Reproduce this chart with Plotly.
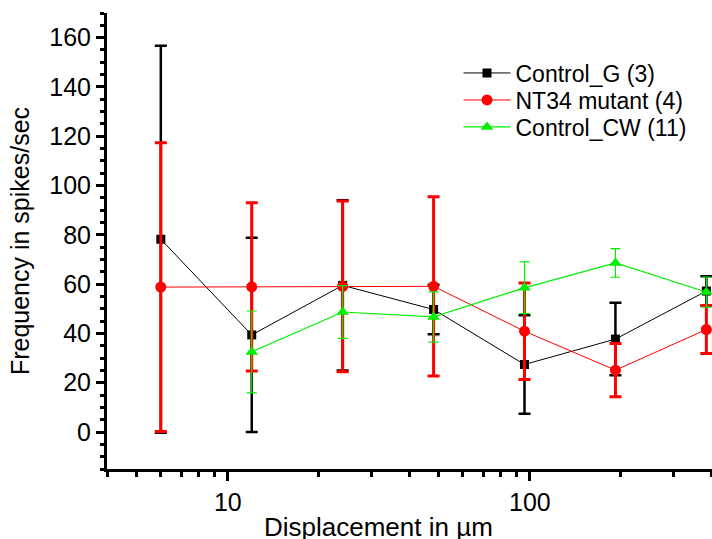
import plotly.graph_objects as go

displacement = [6, 12, 24, 48, 96, 192, 384]
displacement_cw = [12, 24, 48, 96, 192, 384]

control_g = [78.2, 39.4, 59.5, 49.7, 27.4, 37.7, 57.2]
control_g_err = [78.5, 39.4, 34.5, 10.0, 20.0, 14.7, 6.0]

nt34 = [58.8, 58.9, 59.1, 59.1, 40.9, 25.1, 41.6]
nt34_err = [58.6, 34.1, 34.6, 36.4, 19.6, 10.8, 9.7]

control_cw = [32.5, 48.7, 46.7, 58.5, 68.6, 56.8]
control_cw_err = [16.6, 10.7, 10.2, 10.5, 5.8, 6.1]

names = ["Control_G (3)", "NT34 mutant (4)", "Control_CW (11)"]
y_ticks = [0, 20, 40, 60, 80, 100, 120, 140, 160]

FONT = "Liberation Sans, Arial, sans-serif"

fig = go.Figure()
fig.add_trace(go.Scatter(
    x=displacement, y=control_g, name=names[0], mode="lines+markers", legend="legend",
    line=dict(color="black", width=1),
    marker=dict(symbol="square", size=9, color="black"),
    error_y=dict(type="data", array=control_g_err, color="black", thickness=2.5, width=6),
))
fig.add_trace(go.Scatter(
    x=displacement, y=nt34, name=names[1], mode="lines+markers", legend="legend2",
    line=dict(color="#ff0000", width=1),
    marker=dict(symbol="circle", size=11, color="#ff0000"),
    error_y=dict(type="data", array=nt34_err, color="#ff0000", thickness=3, width=6),
))
fig.add_trace(go.Scatter(
    x=displacement_cw, y=control_cw, name=names[2], mode="lines+markers", legend="legend3",
    line=dict(color="#00ee00", width=1.2),
    marker=dict(symbol="triangle-up", size=11, color="#00ee00"),
    error_y=dict(type="data", array=control_cw_err, color="#00ee00", thickness=1.2, width=5),
))

PLOT_TOP, PLOT_H = 13, 456


def legend_at(row_center_px):
    return dict(
        x=0.581, y=1 - (row_center_px - PLOT_TOP) / PLOT_H, xanchor="left", yanchor="middle",
        font=dict(size=23, family=FONT, color="black"),
        bgcolor="rgba(0,0,0,0)", borderwidth=0, itemwidth=47,
    )


fig.update_layout(
    width=712, height=539,
    margin=dict(l=107, r=0, t=13, b=70),
    paper_bgcolor="white", plot_bgcolor="white",
    font=dict(family=FONT, color="black"),
    showlegend=True,
    legend=legend_at(73),
    legend2=legend_at(100),
    legend3=legend_at(127),
    xaxis=dict(
        type="log", range=[0.6, 2.603],
        showline=True, linecolor="black", linewidth=3, mirror=False,
        showgrid=False, zeroline=False,
        tickvals=[10, 100], ticktext=["10", "100"],
        ticks="outside", ticklen=9, tickwidth=3, tickcolor="black",
        tickfont=dict(size=25, family=FONT, color="black"),
        minor=dict(ticks="outside", ticklen=5, tickwidth=3, tickcolor="black",
                   tickvals=[4, 5, 6, 7, 8, 9, 20, 30, 40, 50, 60, 70, 80, 90, 200, 300, 400],
                   showgrid=False),
    ),
    yaxis=dict(
        range=[-15, 170],
        showline=True, linecolor="black", linewidth=3, mirror=False,
        showgrid=False, zeroline=False,
        tickvals=y_ticks, ticktext=[str(v) for v in y_ticks],
        ticks="outside", ticklen=8, tickwidth=3, tickcolor="black",
        tickfont=dict(size=25, family=FONT, color="black"),
        title=dict(text="Frequency in spikes/sec", font=dict(size=25, family=FONT, color="black"), standoff=13),
        minor=dict(ticks="outside", ticklen=4, tickwidth=3, tickcolor="black", dtick=5, showgrid=False),
    ),
    annotations=[dict(
        text="Displacement in µm", xref="paper", yref="paper",
        x=0.448, y=-0.128, xanchor="center", yanchor="middle",
        showarrow=False, font=dict(size=26, family=FONT, color="black"),
    )],
)

fig.write_html(
    "out.html",
    config={"displayModeBar": False},
    post_script="document.body.style.margin='0';document.body.style.overflow='hidden';",
)
